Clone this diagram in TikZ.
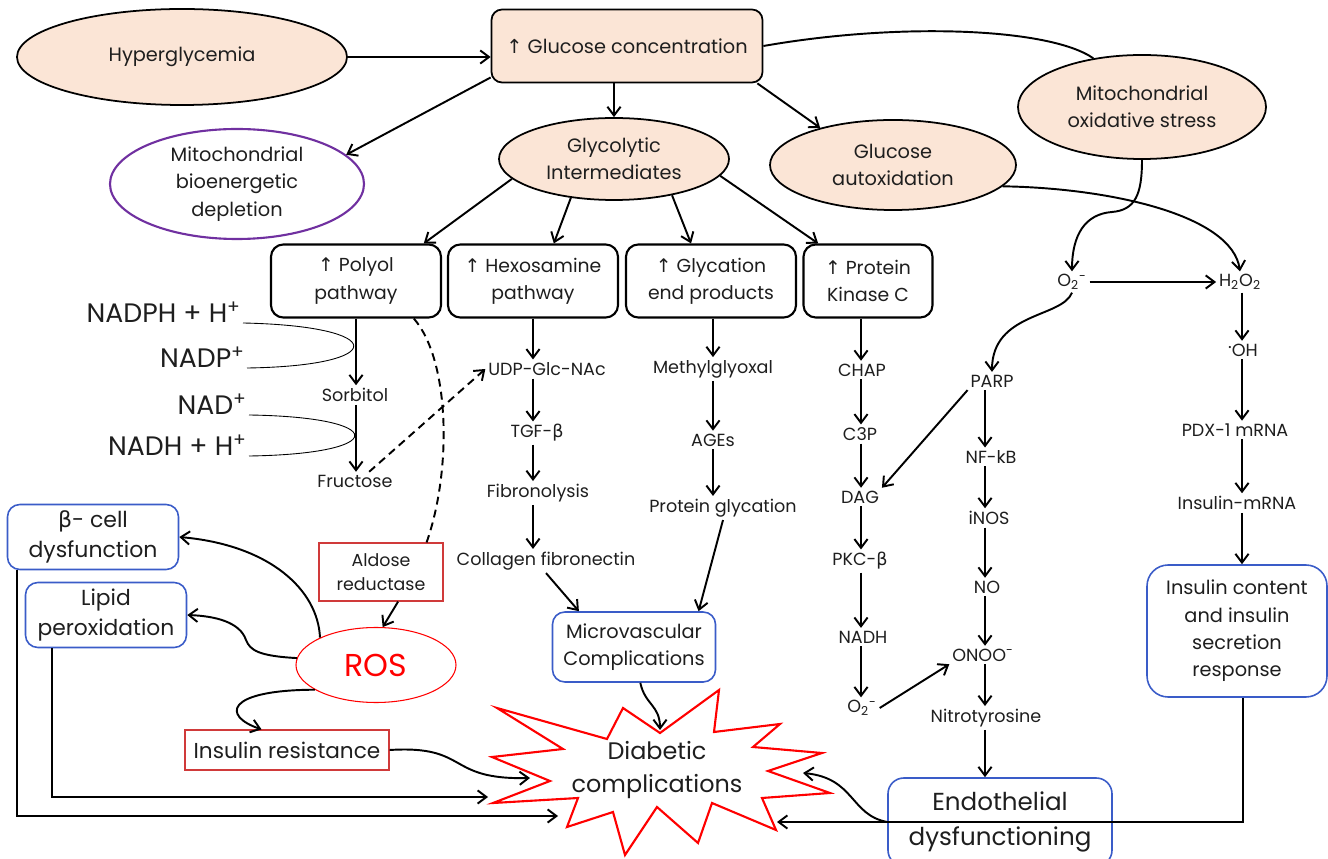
\documentclass[tikz,border=0pt]{standalone}
\usepackage{fontspec}
\setmainfont{Poppins}
\newfontfamily\arrfont{DejaVu Sans}
\newcommand{\upar}{{\arrfont ↑}}
\newcommand{\grb}{{\arrfont β}}
\usetikzlibrary{shapes.geometric,arrows.meta}
\definecolor{peach}{HTML}{FBE5D6}
\definecolor{boxblue}{HTML}{3A5CC8}
\definecolor{boxred}{HTML}{D03A3A}
\definecolor{purp}{HTML}{7030A0}
\definecolor{ink}{HTML}{1E1E1E}
\tikzset{
  arr/.style={line width=1.1pt, -{Straight Barb[length=5pt,width=7.5pt]}},
  dsh/.style={line width=1.1pt, dash pattern=on 4.5pt off 3pt},
  oval/.style={ellipse, draw, line width=1pt, fill=peach, inner sep=0pt, align=center, font=\fontsize{11}{15.5}\selectfont},
  pathbox/.style={draw, line width=1.2pt, rounded corners=7pt, minimum width=34mm, minimum height=14.6mm, inner sep=0pt, align=center, font=\fontsize{10.7}{15.5}\selectfont},
  bluebox/.style={draw=boxblue, line width=0.9pt, rounded corners=7pt, inner sep=0pt, align=center},
  redbox/.style={draw=boxred, line width=0.7pt, inner sep=0pt, align=center},
  lbl/.style={inner sep=1.5pt, font=\fontsize{10}{12}\selectfont},
  cof/.style={inner sep=1pt, anchor=base east, font=\fontsize{15.2}{16}\selectfont},
}
\begin{document}
\begin{tikzpicture}[x=0.2mm, y=-0.2mm, text=ink]
  \useasboundingbox (0,0) rectangle (1328,859);
  \node[oval, minimum width=66mm, minimum height=19.2mm] (hyp) at (182,57) {Hyperglycemia};
  \node[draw, fill=peach, line width=1pt, rounded corners=6pt, minimum width=54.2mm, minimum height=14.6mm, font=\fontsize{11}{15.5}\selectfont] (glu) at (627,46) {\upar\ Glucose concentration};
  \node[oval, fill=white, draw=purp, line width=1.2pt, minimum width=50.8mm, minimum height=22mm] (bio) at (237,184) {Mitochondrial\\bioenergetic\\depletion};
  \node[oval, minimum width=46mm, minimum height=16.4mm] (gly) at (614,159) {Glycolytic\\Intermediates};
  \node[oval, minimum width=49.2mm, minimum height=18mm] (aut) at (893,165) {Glucose\\autoxidation};
  \node[oval, minimum width=49.6mm, minimum height=20.8mm] (mox) at (1142,107) {Mitochondrial\\oxidative stress};

  \node[pathbox] (pol) at (356,281) {\upar\ Polyol\\pathway};
  \node[pathbox] (hex) at (533,281) {\upar\ Hexosamine\\pathway};
  \node[pathbox] (glyc) at (711,281) {\upar\ Glycation\\end products};
  \node[pathbox, minimum width=25.8mm] (pkc) at (868,281) {\upar\ Protein\\Kinase C};

  \foreach \n/\x/\y/\txt in {sorb/355/395/Sorbitol, fruc/355/481/Fructose,
      udp/547/369/UDP-Glc-NAc, tgf/537/433/TGF-\grb, fib/538/493/Fibronolysis, col/546/561/Collagen fibronectin,
      meth/713/369/Methylglyoxal, ages/713/440/AGEs, pgly/723/508/Protein glycation,
      chap/862/370/CHAP, c3p/860/434/C3P, dag/860/497/DAG, pkcb/860/561/PKC-\grb, nadh/863/637/NADH,
      otwo/862/708/{O\textsubscript{2}\textsuperscript{-}},
      parp/992/381/PARP, nfkb/991/457/NF-kB, inos/989/518/iNOS, no/987/587/NO,
      onoo/983/655/{ONOO\textsuperscript{-}}, nitro/986/718/Nitrotyrosine,
      oone/1072/282/{O\textsubscript{2}\textsuperscript{-}}, hto/1240/282/{H\textsubscript{2}O\textsubscript{2}},
      oh/1243/350/{\raisebox{.8ex}{.}OH}, pdx/1235/430/PDX-1 mRNA, insm/1237/503/Insulin-mRNA}
    \node[lbl] (\n) at (\x,\y) {\txt};

  \node[cof] (nadph) at (243,323) {NADPH + H\textsuperscript{+}};
  \node[cof] (nadp) at (247,368) {NADP\textsuperscript{+}};
  \node[cof] (nad) at (249,415) {NAD\textsuperscript{+}};
  \node[cof] (nadhh) at (249,456) {NADH + H\textsuperscript{+}};
  \draw[line width=0.5pt] (nadph.base east) .. controls (390,326) and (390,366) .. (nadp.base east);
  \draw[line width=0.5pt] (nad.base east) .. controls (390,417) and (390,454) .. (nadhh.base east);

  \node[bluebox, minimum width=34.2mm, minimum height=13mm, font=\fontsize{12.5}{17}\selectfont] (beta) at (93,537) {\grb- cell\\dysfunction};
  \node[bluebox, minimum width=32.2mm, minimum height=13mm, font=\fontsize{12.4}{17}\selectfont] (lip) at (106,615) {Lipid\\peroxidation};
  \node[bluebox, minimum width=32.6mm, minimum height=14mm, font=\fontsize{11}{15}\selectfont] (micro) at (634,647) {Microvascular\\Complications};
  \node[bluebox, rounded corners=12pt, minimum width=36mm, minimum height=26.4mm, font=\fontsize{11}{15.5}\selectfont] (ins) at (1237,631) {Insulin content\\and insulin\\secretion\\response};
  \node[bluebox, rounded corners=9pt, minimum width=44.8mm, minimum height=17.6mm, font=\fontsize{14}{20}\selectfont] (endo) at (1000,822) {Endothelial\\dysfunctioning};

  \node[redbox, minimum width=24.8mm, minimum height=11.6mm, font=\fontsize{9.9}{14}\selectfont] (ald) at (381,572) {Aldose\\reductase};
  \node[redbox, minimum width=40.8mm, minimum height=8mm, font=\fontsize{12.3}{15}\selectfont] (insr) at (287,750) {Insulin resistance};
  \node[ellipse, draw=red, line width=0.6pt, text=red, minimum width=32mm, minimum height=15mm, inner sep=0pt, font=\fontsize{18}{20}\selectfont] (ros) at (376,665) {ROS};

  \draw[red, line width=1.2pt] (497,708) -- (607,739) -- (623,708) -- (660,733) -- (719,690) -- (714,732)
    -- (780,724) -- (753,747) -- (822,753) -- (768,771) -- (830,793) -- (762,798) -- (776,830)
    -- (712,803) -- (698,843) -- (657,807) -- (625,855) -- (613,812) -- (567,827) -- (578,798)
    -- (493,803) -- (550,781) -- (492,757) -- (563,749) -- cycle;
  \node[align=center, font=\fontsize{13.6}{19}\selectfont] (diab) at (657,770) {Diabetic\\complications};

  \coordinate (xo) at (356,0);
  \coordinate (xh) at (533,0);
  \coordinate (xg) at (713,0);
  \coordinate (xk) at (861,0);
  \coordinate (xp) at (985,0);
  \coordinate (xr) at (1242,0);
  \coordinate (xl) at (52,0);
  \coordinate (xb) at (17,0);
  \coordinate (xi) at (1243,0);
  \coordinate (tinsr) at (530,778);
  \coordinate (tlip) at (488,797);
  \coordinate (tbeta) at (558,816);
  \coordinate (tmic) at (660,730);
  \coordinate (tendo) at (803,773);
  \coordinate (tins) at (777,822);

  \draw[arr] (hyp.east) -- (hyp.east -| glu.west);
  \draw[arr] (glu.193) -- (bio.15);
  \draw[arr] (glu.south -| gly.north) -- (gly.north);
  \draw[arr] (glu.-16) -- (aut.153);
  \draw[line width=1.1pt] (glu.east) .. controls (900,22) and (1050,28) .. (mox.135);
  \foreach \s/\e in {191/pol.29, 222/hex.61, -32/glyc.118, -9/pkc.143}
    \draw[arr] (gly.\s) -- (\e);
  \draw[arr] (mox.south) .. controls (1142,195) and (1135,210) .. (1112,212) .. controls (1085,214) and (1072,235) .. (oone.north);
  \draw[arr] (aut.-11) .. controls (1110,188) and (1232,215) .. (hto.north);
  \draw[arr] (oone) -- (hto);
  \draw[arr] (oone.south) .. controls (1062,318) and (992,312) .. (parp.north);

  \foreach \a/\b/\c in {pol/sorb/xo, sorb/fruc/xo, hex/udp/xh, udp/tgf/xh, tgf/fib/xh, fib/col/xh,
      glyc/meth/xg, meth/ages/xg, ages/pgly/xg, pkc/chap/xk, chap/c3p/xk, c3p/dag/xk, dag/pkcb/xk,
      pkcb/nadh/xk, nadh/otwo/xk, parp/nfkb/xp, nfkb/inos/xp, inos/no/xp, no/onoo/xp, onoo/nitro/xp,
      nitro/endo/xp, hto/oh/xr, oh/pdx/xr, pdx/insm/xr, insm/ins/xr}
    \draw[arr] (\a.south -| \c) -- (\b.north -| \c);

  \draw[arr] (parp.south west) -- (dag.north east);
  \draw[arr] (otwo.east) -- (onoo.south west);
  \draw[dsh] (pol.-33) .. controls (450,360) and (452,470) .. (ald.33);
  \draw[arr, dsh] (fruc.33) -- (udp.west);
  \draw[arr] (ald.-60) -- (ros.80);
  \draw[arr] (ros.154) .. controls (318,590) and (270,545) .. (beta.east);
  \draw[arr] (ros.175) .. controls (258,656) and (250,650) .. (246,640) .. controls (240,622) and (215,616) .. (lip.east);
  \draw[arr] (ros.202) .. controls (225,690) and (222,716) .. (insr.141);
  \draw[arr] (insr.east) .. controls (470,745) and (445,780) .. (tinsr);
  \draw[arr] (lip.south -| xl) |- (tlip);
  \draw[arr] (beta.south -| xb) |- (tbeta);
  \draw[arr] (col.south) -- (micro.147);
  \draw[arr] (pgly.south) -- (micro.29);
  \draw[arr] (micro.-80) .. controls (645,705) and (660,705) .. (tmic);
  \draw[arr] (endo.west) .. controls (850,815) and (855,778) .. (tendo);
  \draw[arr] (ins.south -| xi) |- (tins);
\end{tikzpicture}
\end{document}
